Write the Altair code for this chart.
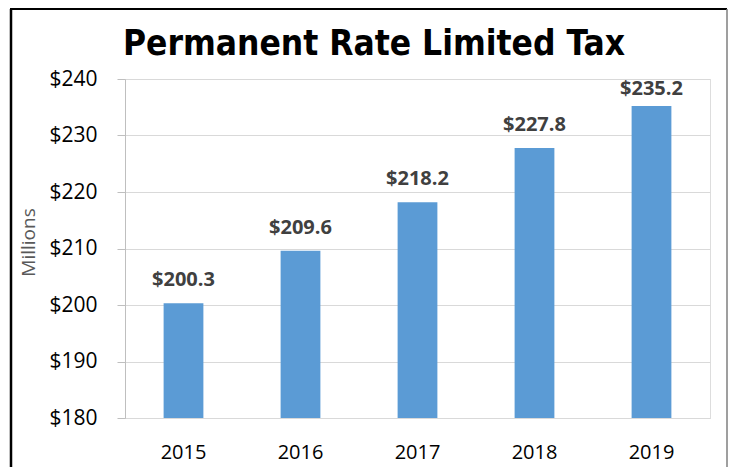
import altair as alt
import pandas as pd

years = ["2015", "2016", "2017", "2018", "2019"]
values = [200.3, 209.6, 218.2, 227.8, 235.2]
labels = ["$200.3", "$209.6", "$218.2", "$227.8", "$235.2"]
y_ticks = [180, 190, 200, 210, 220, 230, 240]
chart_title = "Permanent Rate Limited Tax"

df = pd.DataFrame({"year": years, "value": values, "label": labels})

FONT = "Open Sans"
TITLE_FONT = "Liberation Sans Narrow, DejaVu Sans Condensed, sans-serif"

x_enc = alt.X(
    "year:N",
    title=None,
    sort=years,
    scale=alt.Scale(paddingInner=0.66, paddingOuter=0.33),
    axis=alt.Axis(
        labelAngle=0, ticks=False, labelPadding=24, labelFontSize=20,
        labelColor="#000000", labelFont=FONT, domainColor="#D9D9D9",
        domainWidth=1, grid=False,
    ),
)

y_scale = alt.Scale(domain=[180, 240], nice=False, zero=False)

bars = alt.Chart(df).mark_bar(color="#5B9BD5", clip=True).encode(
    x=x_enc,
    y=alt.Y(
        "value:Q",
        title="Millions",
        scale=y_scale,
        axis=alt.Axis(
            values=y_ticks, labelExpr="'$' + datum.value",
            labelFontSize=21, labelFont=FONT, labelColor="#000000",
            labelPadding=20, tickSize=8, tickColor="#BFBFBF",
            domainColor="#BFBFBF", gridColor="#D9D9D9", grid=True,
            titleFont=FONT, titleFontSize=19, titleFontWeight="normal",
            titleColor="#595959", titleX=-97, titleY=163,
            titleBaseline="middle", titleAlign="center", titleAngle=270,
        ),
    ),
)

text = alt.Chart(df).transform_calculate(
    ly="min(datum.value, 234.2)"
).mark_text(
    dy=-17, baseline="alphabetic", fontSize=20, fontWeight="bold",
    color="#404040", font=FONT,
).encode(
    x=alt.X("year:N", sort=years),
    y=alt.Y("ly:Q", scale=y_scale),
    text="label:N",
)

one = alt.Data(values=[{"k": 1}])
title_mark = alt.Chart(one).mark_text(
    font=TITLE_FONT, fontSize=35, fontWeight="bold", color="#000000",
    align="center", baseline="alphabetic",
).encode(
    x=alt.value(249), y=alt.value(-24), text=alt.value(chart_title)
)
left_border = alt.Chart(one).mark_rule(color="#000000", strokeWidth=2.5).encode(
    x=alt.value(-114), y=alt.value(-70), y2=alt.value(400)
)
top_border = alt.Chart(one).mark_rule(color="#000000", strokeWidth=2).encode(
    x=alt.value(-115), x2=alt.value(602), y=alt.value(-70)
)
right_border = alt.Chart(one).mark_rule(color="#7F7F7F", strokeWidth=1.5).encode(
    x=alt.value(602), y=alt.value(-70), y2=alt.value(400)
)

chart = alt.layer(
    bars, text, title_mark, left_border, top_border, right_border
).properties(
    width=585,
    height=339,
    autosize=alt.AutoSizeParams(type="none"),
    padding={"left": 117, "top": 71, "right": 18, "bottom": 49},
).configure_view(stroke=None).configure(background="white")

chart.save("out.html", embed_options={"renderer": "svg", "actions": False})
